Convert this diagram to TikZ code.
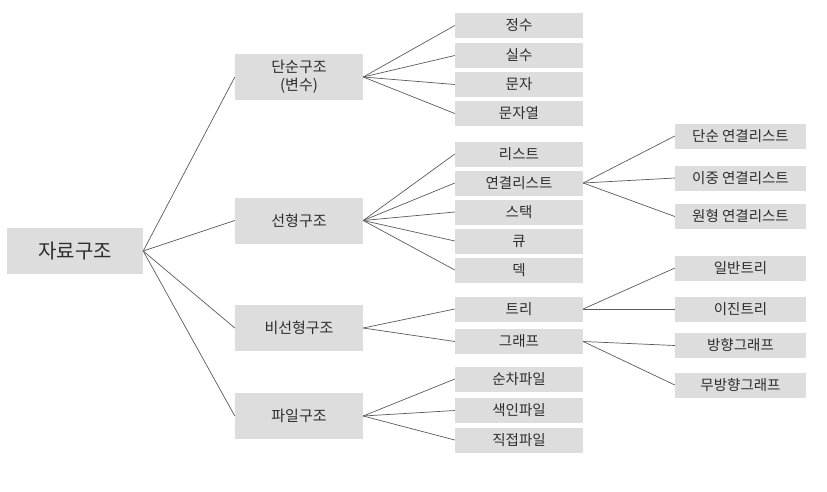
\documentclass[tikz,border=0pt]{standalone}
\usepackage{fontspec}
\setmainfont{Noto Sans CJK KR}
\usepackage{tikz}
\usetikzlibrary{positioning}
\definecolor{boxgray}{HTML}{DDDDDD}
\definecolor{linegray}{HTML}{5A5A5A}
\definecolor{ink}{HTML}{2E2E2E}
\tikzset{
  rootbox/.style={fill=boxgray,minimum width=136pt,minimum height=46pt,
                  inner sep=0pt,align=center,text=ink,font=\fontsize{20}{23}\selectfont},
  topic/.style={fill=boxgray,minimum width=128pt,minimum height=46pt,
                inner sep=0pt,align=center,text=ink,font=\fontsize{15}{17.5}\selectfont},
  item/.style={fill=boxgray,minimum width=128pt,minimum height=25pt,
               inner sep=0pt,align=center,text=ink,font=\fontsize{14.5}{17}\selectfont},
  leaf/.style={item,minimum width=131pt},
  link/.style={draw=linegray,line width=0.7pt}
}
\begin{document}
\begin{tikzpicture}[x=1pt,y=-1pt]
\useasboundingbox (0,0) rectangle (827,491);
% root and second level
\node[rootbox] (root) at (75,251) {자료구조};
\node[topic] (simple) at (299,77) {단순구조\\(변수)};
\node[topic] (linear) at (299,220.5) {선형구조};
\node[topic] (nonlin) at (299,328) {비선형구조};
\node[topic] (file) at (299,416) {파일구조};
% third level
\node[item] (int) at (519,25.5) {정수};
\node[item] (real) at (519,55.5) {실수};
\node[item] (char) at (519,84.5) {문자};
\node[item] (str) at (519,113.5) {문자열};
\node[item] (list) at (519,154) {리스트};
\node[item] (linked) at (519,183) {연결리스트};
\node[item] (stack) at (519,212) {스택};
\node[item] (queue) at (519,241) {큐};
\node[item] (deque) at (519,270) {덱};
\node[item] (tree) at (519,309) {트리};
\node[item] (graph) at (519,341.5) {그래프};
\node[item] (seqf) at (519,379) {순차파일};
\node[item] (idxf) at (519,410.5) {색인파일};
\node[item] (dirf) at (519,440) {직접파일};
% fourth level
\node[leaf] (single) at (740.5,136) {단순 연결리스트};
\node[leaf] (double) at (740.5,178) {이중 연결리스트};
\node[leaf] (circ) at (740.5,216.5) {원형 연결리스트};
\node[leaf] (gtree) at (740.5,268) {일반트리};
\node[leaf] (btree) at (740.5,309) {이진트리};
\node[leaf] (dgraph) at (740.5,345.5) {방향그래프};
\node[leaf] (ugraph) at (740.5,385) {무방향그래프};
% connectors
\draw[link] (root.east)--(simple.west);
\draw[link] (root.east)--(linear.west);
\draw[link] (root.east)--(nonlin.west);
\draw[link] (root.east)--(file.west);
\draw[link] (simple.east)--(int.west);
\draw[link] (simple.east)--(real.west);
\draw[link] (simple.east)--(char.west);
\draw[link] (simple.east)--(str.west);
\draw[link] (linear.east)--(list.west);
\draw[link] (linear.east)--(linked.west);
\draw[link] (linear.east)--(stack.west);
\draw[link] (linear.east)--(queue.west);
\draw[link] (linear.east)--(deque.west);
\draw[link] (nonlin.east)--(tree.west);
\draw[link] (nonlin.east)--(graph.west);
\draw[link] (file.east)--(seqf.west);
\draw[link] (file.east)--(idxf.west);
\draw[link] (file.east)--(dirf.west);
\draw[link] (linked.east)--(single.west);
\draw[link] (linked.east)--(double.west);
\draw[link] (linked.east)--(circ.west);
\draw[link] (tree.east)--(gtree.west);
\draw[link] (tree.east)--(btree.west);
\draw[link] (graph.east)--(dgraph.west);
\draw[link] (graph.east)--(ugraph.west);
\end{tikzpicture}
\end{document}
